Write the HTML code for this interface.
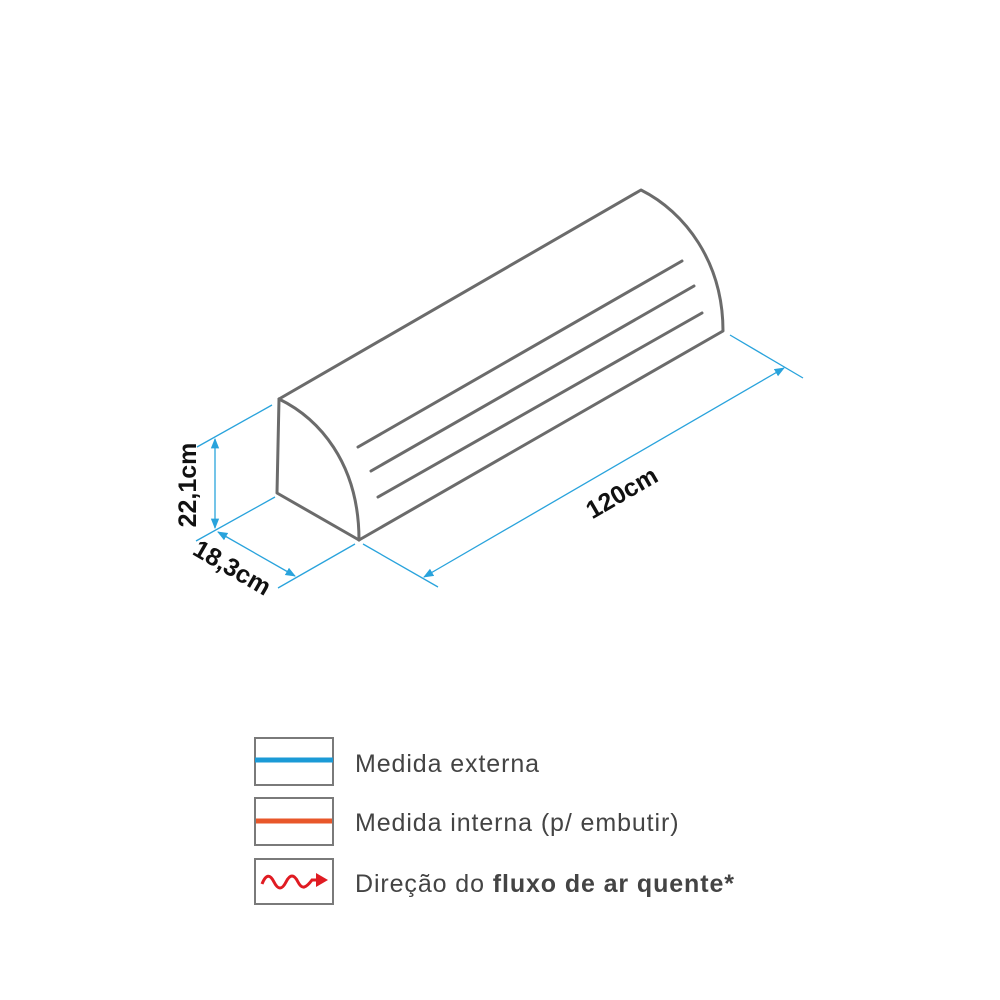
<!DOCTYPE html>
<html><head><meta charset="utf-8"><style>
html,body{margin:0;padding:0;background:#fff;}
svg{display:block}
</style></head><body>
<svg width="1000" height="1000" viewBox="0 0 1000 1000" xmlns="http://www.w3.org/2000/svg">
<defs>
<marker id="a" viewBox="0 0 10 10" refX="9" refY="5" markerWidth="8" markerHeight="8" orient="auto-start-reverse">
<path d="M0,1 L10,5 L0,9 z" fill="#29a3dc"/></marker>
</defs>
<g fill="none" stroke="#6b6b6b" stroke-width="3" stroke-linejoin="round" stroke-linecap="round">
<path d="M279,399 L277,493 L359,540"/>
<path d="M279,399 C318,418 359,462 359,540"/>
<path d="M279,399 L641,190 C685,212 723,262 723,331 L359,540"/>
<path d="M358,447 L682,261"/>
<path d="M371,471 L694,286"/>
<path d="M378,497 L702,313"/>
</g>
<g fill="none" stroke="#29a3dc" stroke-width="1.3">
<path d="M272,405 L197,447"/>
<path d="M275,497 L196,541"/>
<path d="M215,439 L215,528" marker-start="url(#a)" marker-end="url(#a)"/>
<path d="M218,532 L295,576" marker-start="url(#a)" marker-end="url(#a)"/>
<path d="M278,588 L355,544"/>
<path d="M363,544 L438,587"/>
<path d="M730,335 L803,378"/>
<path d="M424,577 L784,368" marker-start="url(#a)" marker-end="url(#a)"/>
</g>
<g font-family="Liberation Sans, sans-serif" font-weight="bold" font-size="25" fill="#111">
<text transform="translate(196,485) rotate(-90)" text-anchor="middle">22,1cm</text>
<text transform="translate(228,575) rotate(30)" text-anchor="middle">18,3cm</text>
<text transform="translate(626,500) rotate(-30)" text-anchor="middle">120cm</text>
</g>
<g fill="none" stroke="#7a7a7a" stroke-width="2">
<rect x="255" y="738" width="78" height="47"/>
<rect x="255" y="798" width="78" height="47"/>
<rect x="255" y="859" width="78" height="45"/>
</g>
<line x1="255" y1="760" x2="333" y2="760" stroke="#1b9ad6" stroke-width="5"/>
<line x1="256" y1="821" x2="332" y2="821" stroke="#e8572a" stroke-width="5"/>
<path d="M262,884 C266,874 270,874 274,882 C278,890 282,890 286,882 C290,874 294,874 298,882 C302,890 306,888 312,880 L320,880" fill="none" stroke="#e01b22" stroke-width="3"/>
<path d="M316,873 L328,880 L316,887 z" fill="#e01b22"/>
<g font-family="Liberation Sans, sans-serif" font-size="25" fill="#444" letter-spacing="0.9">
<text x="355" y="772">Medida externa</text>
<text x="355" y="831">Medida interna (p/ embutir)</text>
<text x="355" y="892">Direção do <tspan font-weight="bold">fluxo de ar quente*</tspan></text>
</g>
</svg>
</body></html>
